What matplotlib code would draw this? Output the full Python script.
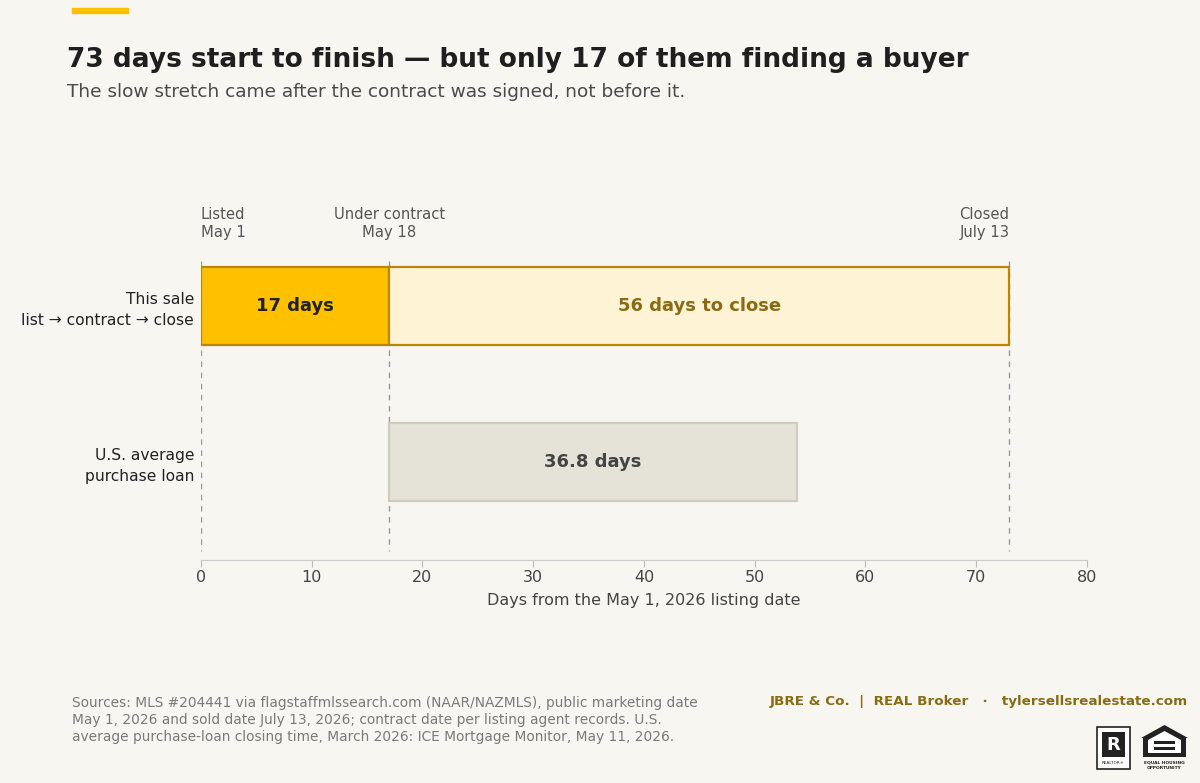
import matplotlib.pyplot as plt
import matplotlib.patches as mpatches

plt.rcParams['font.family'] = ['DejaVu Sans']

# data
rows = ["This sale\nlist \u2192 contract \u2192 close", "U.S. average\npurchase loan"]
sale_starts = [0, 17]
sale_lengths = [17, 56]
sale_labels = ["17 days", "56 days to close"]
us_start = 17
us_length = 36.8
us_label = "36.8 days"
milestones = [0, 17, 73]
milestone_labels = ["Listed\nMay 1", "Under contract\nMay 18", "Closed\nJuly 13"]
xticks = [0, 10, 20, 30, 40, 50, 60, 70, 80]

bg = "#F7F6F1"
gold = "#FFC000"
gold_edge = "#B8860B"
light = "#FFF3D6"
brown = "#8A6A12"
grey_fill = "#E5E3D8"
grey_edge = "#CFCCC0"

fig = plt.figure(figsize=(12, 7.83), dpi=100, facecolor=bg)
ax = fig.add_axes([0.1675, 0.2848, 0.7383, 0.3842], facecolor=bg)

# milestone dashed lines
for m in milestones:
    ax.vlines(m, -0.29, 1.57, colors="#999999", linestyles=(0, (4, 4)), linewidth=1, zorder=1)

# sale bar
ax.barh(0, sale_lengths[0], left=sale_starts[0], height=0.5, color=gold,
        edgecolor=gold_edge, linewidth=1.6, zorder=3)
ax.barh(0, sale_lengths[1], left=sale_starts[1], height=0.5, color=light,
        edgecolor=gold_edge, linewidth=1.6, zorder=3)
ax.text(sale_starts[0] + sale_lengths[0] / 2, 0, sale_labels[0], ha="center", va="center",
        fontsize=13, fontweight="bold", color="#222222", zorder=4)
ax.text(sale_starts[1] + sale_lengths[1] / 2, 0, sale_labels[1], ha="center", va="center",
        fontsize=13, fontweight="bold", color=brown, zorder=4)

# US average bar
ax.barh(1, us_length, left=us_start, height=0.5, color=grey_fill,
        edgecolor=grey_edge, linewidth=1.6, zorder=3)
ax.text(us_start + us_length / 2, 1, us_label, ha="center", va="center",
        fontsize=13, fontweight="bold", color="#444444", zorder=4)

# milestone labels
aligns = ["left", "center", "right"]
for m, lab, a in zip(milestones, milestone_labels, aligns):
    ax.text(m, -0.42, lab, ha=a, va="bottom", fontsize=10.6, color="#555555",
            linespacing=1.25)

ax.set_xlim(0, 80)
ax.set_ylim(1.63, -0.3)
ax.set_xticks(xticks)
ax.set_yticks([0, 1])
ax.set_yticklabels(rows, fontsize=11.2, color="#222222")
for t in ax.get_yticklabels():
    t.set_linespacing(1.45)
ax.tick_params(axis="y", length=0, pad=5)
ax.tick_params(axis="x", colors="#BBBBBB", labelcolor="#444444", labelsize=11.5, length=5, pad=2)
for s in ["top", "right", "left"]:
    ax.spines[s].set_visible(False)
ax.spines["bottom"].set_color("#CCCCCC")
ax.set_xlabel("Days from the May 1, 2026 listing date", fontsize=11.5, color="#444444", labelpad=6)

# header
fig.patches.append(mpatches.Rectangle((72 / 1200, 1 - 13 / 783), 56 / 1200, 5 / 783,
                                      transform=fig.transFigure, color=gold))
fig.text(67 / 1200, 1 - 60 / 783, "73 days start to finish \u2014 but only 17 of them finding a buyer",
         fontsize=19, fontweight="bold", color="#1F1F1F", va="center")
fig.text(67 / 1200, 1 - 92 / 783, "The slow stretch came after the contract was signed, not before it.",
         fontsize=13.3, color="#4A4A4A", va="center")

# footer
fig.text(72 / 1200, 1 - 720 / 783,
         "Sources: MLS #204441 via flagstaffmlssearch.com (NAAR/NAZMLS), public marketing date\n"
         "May 1, 2026 and sold date July 13, 2026; contract date per listing agent records. U.S.\n"
         "average purchase-loan closing time, March 2026: ICE Mortgage Monitor, May 11, 2026.",
         fontsize=9.9, color="#7A7A7A", va="center", linespacing=1.25)
fig.text(1188 / 1200, 1 - 702 / 783,
         "JBRE & Co.  |  REAL Broker   \u00b7   tylersellsrealestate.com",
         fontsize=9.7, fontweight="bold", color=brown, ha="right", va="center")

# logos
fig.patches.append(mpatches.Rectangle((1097 / 1200, 1 - 769 / 783), 33 / 1200, 42 / 783,
                                      transform=fig.transFigure, facecolor="white",
                                      edgecolor="#222222", linewidth=1.2))
fig.patches.append(mpatches.Rectangle((1102 / 1200, 1 - 757 / 783), 23 / 1200, 25 / 783,
                                      transform=fig.transFigure, facecolor="#222222"))
fig.text(1113.5 / 1200, 1 - 745 / 783, "R", fontsize=13, fontweight="bold", color="white",
         ha="center", va="center")
fig.text(1113.5 / 1200, 1 - 763 / 783, "REALTOR\u00ae", fontsize=3, color="#222222",
         ha="center", va="center")
house = [(1141, 738), (1164.5, 725), (1188, 738), (1186, 738), (1186, 757), (1143, 757), (1143, 738)]
fig.patches.append(mpatches.Polygon([(x / 1200, 1 - y / 783) for x, y in house], closed=True,
                                    transform=fig.transFigure, facecolor="#222222"))
inner = [(1148, 740), (1164.5, 731), (1181, 740), (1181, 753), (1148, 753)]
fig.patches.append(mpatches.Polygon([(x / 1200, 1 - y / 783) for x, y in inner], closed=True,
                                    transform=fig.transFigure, facecolor="white"))
fig.patches.append(mpatches.Rectangle((1154 / 1200, 1 - 744 / 783), 21 / 1200, 3 / 783,
                                      transform=fig.transFigure, facecolor="#222222"))
fig.patches.append(mpatches.Rectangle((1154 / 1200, 1 - 750 / 783), 21 / 1200, 3 / 783,
                                      transform=fig.transFigure, facecolor="#222222"))
fig.text(1164.5 / 1200, 1 - 762 / 783, "EQUAL HOUSING", fontsize=3.2, fontweight="bold",
         color="#222222", ha="center", va="center")
fig.text(1164.5 / 1200, 1 - 768 / 783, "OPPORTUNITY", fontsize=3.2, fontweight="bold",
         color="#222222", ha="center", va="center")

fig.savefig("out.png", dpi=100, facecolor=bg)
